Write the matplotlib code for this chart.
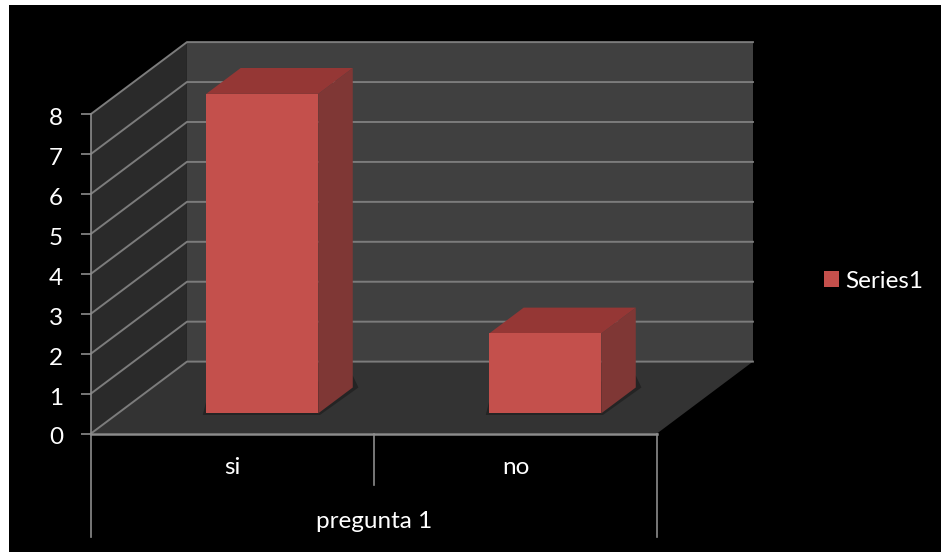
import matplotlib
matplotlib.use("Agg")
import matplotlib.pyplot as plt
from matplotlib.patches import Patch, Polygon, Rectangle
from matplotlib.transforms import ScaledTranslation

categories = ["si", "no"]
values = [8, 2]
group_label = "pregunta 1"
series_name = "Series1"
y_ticks = [0, 1, 2, 3, 4, 5, 6, 7, 8]

W, H = 941, 552
# depth of the 3d box, in data units
DX, DY = 0.339, 1.80
# bar placement inside the box
BAR_W = 0.396
BAR_SHIFT = 0.51
D0, D1 = 0.28, 0.64

WALL = "#404040"
SIDE = "#2a2a2a"
FLOOR = "#333333"
GRID = "#7c7c7c"
AXIS = "#8c8c8c"
FRONT = "#c4504c"
BAR_SIDE = "#7f3735"
BAR_TOP = "#953735"
FS = 17.5

plt.rcParams["font.family"] = ["Lato", "DejaVu Sans"]

fig = plt.figure(figsize=(W / 100, H / 100), dpi=100, facecolor="white")
fig.patches.append(Rectangle((9 / W, 0), 1, 1 - 5 / H, transform=fig.transFigure,
                             facecolor="black", edgecolor="none", zorder=-5))

ax = fig.add_axes([91 / W, 1 - 433.5 / H, 566 / W, 319.5 / H])
ax.patch.set_visible(False)
ax.set_xlim(0, 2)
ax.set_ylim(0, 8)


def poly(pts, color, z):
    ax.add_patch(Polygon(pts, closed=True, facecolor=color, edgecolor="none",
                         clip_on=False, zorder=z))


top = y_ticks[-1]
poly([(DX, DY), (2 + DX, DY), (2 + DX, top + DY), (DX, top + DY)], WALL, 1)
poly([(0, 0), (DX, DY), (DX, top + DY), (0, top)], SIDE, 1)
poly([(0, 0), (2, 0), (2 + DX, DY), (DX, DY)], FLOOR, 1)

for v in y_ticks:
    ax.plot([0, DX, 2 + DX], [v, v + DY, v + DY], color=GRID, lw=1.4,
            clip_on=False, zorder=2)
ax.plot([0, 2], [0, 0], color=AXIS, lw=1.8, clip_on=False, zorder=2)

# bars: shadow, then side, top and front faces
for i, val in enumerate(values):
    x0 = i + BAR_SHIFT - BAR_W / 2
    x1 = i + BAR_SHIFT + BAR_W / 2
    fx0, fx1 = x0 + D0 * DX, x1 + D0 * DX
    bx0, bx1 = x0 + D1 * DX, x1 + D1 * DX
    fy, by = D0 * DY, D1 * DY
    poly([(fx0 - 0.012, fy - 0.04), (fx1 + 0.006, fy - 0.04),
          (bx1 + 0.02, by), (bx1, by + 0.3), (fx0, fy + 0.3)], "#242424", 3)
    poly([(fx1, fy), (bx1, by), (bx1, by + val), (fx1, fy + val)], BAR_SIDE, 4)
    poly([(fx0, fy + val), (fx1, fy + val), (bx1, by + val), (bx0, by + val)], BAR_TOP, 4)
    poly([(fx0, fy), (fx1, fy), (fx1, fy + val), (fx0, fy + val)], FRONT, 5)

# value axis
for name in ["top", "right", "bottom"]:
    ax.spines[name].set_visible(False)
ax.spines["left"].set_color(AXIS)
ax.spines["left"].set_linewidth(1.2)
ax.set_yticks(y_ticks)
ax.tick_params(axis="y", colors="white", length=7, width=1.2, color=AXIS,
               labelsize=FS, pad=13)
ax.set_xticks([])

# tick labels sit a little below their tick marks
nudge = ScaledTranslation(0, -2.5 / 100, fig.dpi_scale_trans)
for label in ax.get_yticklabels():
    label.set_transform(label.get_transform() + nudge)

# multi level category axis
for x, low in [(0, -2.59), (1, -1.3), (2, -2.59)]:
    ax.plot([x, x], [0, low], color=AXIS, lw=1.2, clip_on=False, zorder=2)
for i, name in enumerate(categories):
    ax.text(i + 0.5, -0.86, name, color="white", fontsize=FS,
            ha="center", va="center")
ax.text(1, -2.2, group_label, color="white", fontsize=FS, ha="center", va="center")

handle = Patch(facecolor=FRONT, edgecolor="none", label=series_name)
ax.legend(handles=[handle], loc="center left", frameon=False,
          bbox_to_anchor=(824 / W, 1 - 281 / H), bbox_transform=fig.transFigure,
          borderaxespad=0, borderpad=0, handlelength=0.62, handleheight=0.62,
          handletextpad=0.25, labelcolor="white", fontsize=FS)

fig.savefig("out.png", dpi=100, facecolor=fig.get_facecolor())
